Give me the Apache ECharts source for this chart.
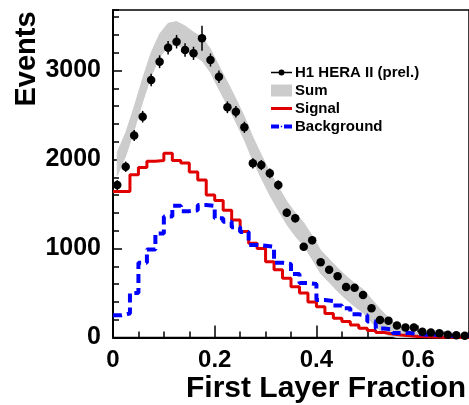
<!DOCTYPE html>
<html>
<head>
<meta charset="utf-8">
<script src="https://cdn.jsdelivr.net/npm/echarts@6/dist/echarts.min.js"></script>
<style>
  html, body { margin: 0; padding: 0; background: #fff; }
  #chart { width: 469px; height: 405px; }
</style>
</head>
<body>
<div id="chart"></div>
<script>
// Histogram binning: 60 bins per unit, 42 bins shown (0 .. 0.7)
const binWidth = 1 / 60;
const nBins = 42;

// Measured events per bin (H1 HERA II preliminary)
const dataValues = [1713, 1919, 2270, 2481, 2893, 3099, 3256, 3324, 3230, 3193, 3362, 3118, 2930, 2587, 2537, 2362, 1957, 1938, 1845, 1713, 1402, 1339, 1020, 1092, 845, 760, 687, 567, 558, 478, 328, 197, 188, 135, 112, 112, 65, 55, 47, 32, 25, 20];
const dataErrors = [55, 58, 62, 65, 70, 72, 75, 76, 75, 74, 140, 73, 70, 66, 65, 63, 57, 57, 55, 53, 48, 47, 42, 43, 38, 36, 34, 31, 31, 29, 24, 19, 18, 15, 14, 14, 10, 9, 9, 7, 6, 6];

// Simulated signal and background per bin
const signalValues = [1640, 1640, 1830, 1910, 1980, 1990, 2070, 1990, 1960, 1860, 1770, 1600, 1540, 1430, 1320, 1190, 1060, 1000, 850, 760, 665, 570, 500, 400, 345, 270, 215, 180, 140, 105, 80, 55, 40, 28, 20, 12, 8, 5, 3, 2, 1, 0];
const backgroundValues = [250, 270, 500, 840, 990, 1170, 1360, 1480, 1420, 1430, 1490, 1480, 1340, 1300, 1240, 1185, 1040, 1030, 1020, 840, 826, 713, 612, 600, 421, 410, 360, 330, 260, 250, 180, 100, 90, 50, 50, 40, 30, 30, 25, 20, 20, 20];

// Sum (signal + background) uncertainty band, lower and upper edge per bin
const sumLow = [1820, 2040, 2330, 2650, 2940, 3150, 3270, 3290, 3240, 3170, 3110, 2980, 2790, 2610, 2420, 2220, 1990, 1790, 1600, 1430, 1270, 1140, 1030, 880, 720, 620, 520, 430, 350, 280, 170, 80, 20, 0, 0, 0, 0, 0, 0, 0, 0, 0];
const sumHigh = [2080, 2300, 2590, 2910, 3200, 3410, 3530, 3550, 3500, 3430, 3370, 3240, 3050, 2870, 2680, 2480, 2250, 2050, 1860, 1690, 1530, 1400, 1290, 1140, 980, 880, 780, 690, 610, 540, 430, 320, 220, 140, 90, 60, 45, 35, 30, 25, 20, 20];

// Axis ticks
const xMajorTicks = [0, 0.2, 0.4, 0.6];
const yMajorTicks = [0, 1000, 2000, 3000];

const binCenter = k => (k + 0.5) * binWidth;
const binEdge = k => k * binWidth;

// step histogram: one point per lower bin edge plus the closing edge
function stepData(values) {
  const out = values.map((v, k) => [binEdge(k), v]);
  out.push([binEdge(nBins), values[nBins - 1]]);
  return out;
}

const pointData = dataValues.map((v, k) => [binCenter(k), v]);
const errorData = dataValues.map((v, k) => [binCenter(k), v - dataErrors[k], v + dataErrors[k]]);
const bandData = sumLow.map((v, k) => [binCenter(k), v, sumHigh[k]]);

const FONT = '"Liberation Sans", Arial, Helvetica, sans-serif';
const X_MAX = 0.7;
const Y_MAX = 3680;

// Legend icons in a 21x12 box; the tiny corner squares pin the box so the shapes keep their size
const BOX = 'M0,0h0.01v0.01h-0.01z M20.99,11.99h0.01v0.01h-0.01z ';
const ICON_DATA = 'path://' + BOX + 'M0,5.25H21V6.75H0Z M7.5,6a3,3 0 1,1 6,0a3,3 0 1,1 -6,0Z';
const ICON_SIGNAL = 'path://' + BOX + 'M0,4.5H21V7.5H0Z';
const ICON_BACKGROUND = 'path://' + BOX + 'M0,4H8V8H0Z M13,4H21V8H13Z M9.8,5.3h1.4v1.4h-1.4z';

const chart = echarts.init(document.getElementById('chart'), null, { renderer: 'canvas' });

chart.setOption({
  animation: false,
  backgroundColor: '#fff',
  grid: {
    left: 113, right: -2, top: 10, bottom: 67.5,
    show: true, borderColor: '#000', borderWidth: 1.5, backgroundColor: 'transparent'
  },
  legend: {
    orient: 'vertical',
    left: 271, top: 65, padding: 0,
    itemWidth: 21, itemHeight: 12, itemGap: 3,
    selectedMode: false,
    textStyle: { fontFamily: FONT, fontWeight: 'bold', fontSize: 15, color: '#000', padding: [0, 0, 0, -2] },
    data: [
      { name: 'H1 HERA II (prel.)', icon: ICON_DATA, itemStyle: { color: '#000' } },
      { name: 'Sum', icon: 'rect', itemStyle: { color: '#cccccc' } },
      { name: 'Signal', icon: ICON_SIGNAL, itemStyle: { color: '#e00000' } },
      { name: 'Background', icon: ICON_BACKGROUND, itemStyle: { color: '#0000ff' } }
    ]
  },
  xAxis: [
    {
      type: 'value', min: 0, max: X_MAX, interval: 0.2, position: 'bottom',
      axisLine: { onZero: false, lineStyle: { color: '#000', width: 2 } },
      axisTick: { inside: true, length: 12, lineStyle: { color: '#000', width: 1.5 } },
      axisLabel: {
        showMaxLabel: false, margin: 11, color: '#000', fontFamily: FONT, fontWeight: 'bold', fontSize: 24,
        formatter: v => (xMajorTicks.indexOf(Math.round(v * 10) / 10) >= 0 ? String(Math.round(v * 10) / 10) : '')
      },
      splitLine: { show: false }
    },
    {
      type: 'value', min: 0, max: X_MAX, interval: 0.05, position: 'bottom',
      axisLine: { show: false },
      axisTick: { inside: true, length: 6, lineStyle: { color: '#000', width: 1.5 } },
      axisLabel: { show: false },
      splitLine: { show: false }
    }
  ],
  yAxis: [
    {
      type: 'value', min: 0, max: Y_MAX, interval: 1000, position: 'left',
      axisLine: { onZero: false, lineStyle: { color: '#000', width: 2 } },
      axisTick: { inside: true, length: 9, lineStyle: { color: '#000', width: 1.5 } },
      axisLabel: {
        showMaxLabel: false, margin: 12, color: '#000', fontFamily: FONT, fontWeight: 'bold', fontSize: 25,
        formatter: v => (yMajorTicks.indexOf(v) >= 0 ? String(v) : '')
      },
      splitLine: { show: false }
    },
    {
      type: 'value', min: 0, max: Y_MAX, interval: 200, position: 'left',
      axisLine: { show: false },
      axisTick: { inside: true, length: 6, lineStyle: { color: '#000', width: 1.5 } },
      axisLabel: { show: false },
      splitLine: { show: false }
    }
  ],
  graphic: [
    {
      type: 'text', x: 27, y: 59, rotation: Math.PI / 2,
      style: { text: 'Events', font: 'bold 29px ' + FONT, fill: '#000', align: 'center', verticalAlign: 'middle' }
    },
    {
      type: 'text', x: 186, y: 389,
      style: { text: 'First Layer Fraction', font: 'bold 30px ' + FONT, fill: '#000', align: 'left', verticalAlign: 'middle' }
    }
  ],
  series: [
    {
      // grey band between the lower and upper edge of the summed prediction
      name: 'Sum', type: 'custom', data: bandData, z: 1, silent: true,
      itemStyle: { color: '#cccccc' },
      encode: { x: 0, y: [1, 2] },
      renderItem: (params, api) => {
        if (params.dataIndex !== 0) return null;
        const upper = bandData.map(d => api.coord([d[0], d[2]]));
        const lower = bandData.map(d => api.coord([d[0], d[1]])).reverse();
        return {
          type: 'polygon',
          shape: { points: upper.concat(lower) },
          style: { fill: '#cccccc', stroke: '#cccccc', lineWidth: 1 }
        };
      }
    },
    {
      name: 'Signal', type: 'line', step: 'end', data: stepData(signalValues),
      symbol: 'none', itemStyle: { color: '#e00000' },
      lineStyle: { color: '#e00000', width: 3 }, z: 2
    },
    {
      name: 'Background', type: 'line', step: 'end', data: stepData(backgroundValues),
      symbol: 'none', itemStyle: { color: '#0000ff' },
      lineStyle: { color: '#0000ff', width: 4, type: [9, 5] }, z: 2
    },
    {
      name: 'errors', type: 'custom', data: errorData, z: 3,
      encode: { x: 0, y: [1, 2] },
      renderItem: (params, api) => {
        const top = api.coord([api.value(0), api.value(2)]);
        const bottom = api.coord([api.value(0), api.value(1)]);
        return {
          type: 'line',
          shape: { x1: top[0], y1: top[1], x2: bottom[0], y2: bottom[1] },
          style: { stroke: '#000', lineWidth: 1.5 }
        };
      }
    },
    {
      name: 'H1 HERA II (prel.)', type: 'line', data: pointData,
      symbol: 'circle', symbolSize: 8.5, showSymbol: true,
      itemStyle: { color: '#000' },
      lineStyle: { opacity: 0 }, z: 4
    }
  ]
});
</script>
</body>
</html>
